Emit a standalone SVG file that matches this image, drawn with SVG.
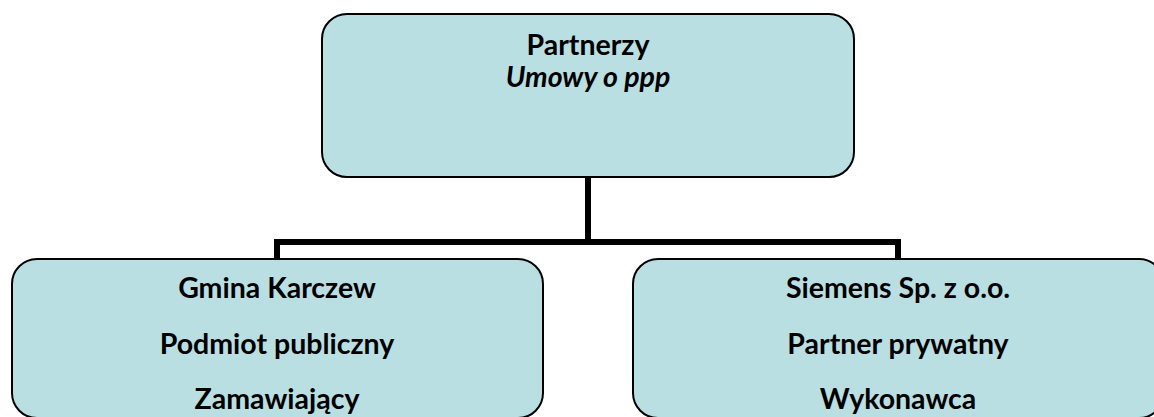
<svg xmlns="http://www.w3.org/2000/svg" width="1154" height="417" viewBox="0 0 1154 417">
<style>
.box{fill:#b9dfe2;stroke:#000;stroke-width:2}
.t{font-family:Lato,"Liberation Sans",sans-serif;font-weight:bold;font-size:28.5px;fill:#000;text-anchor:middle}
.i{font-style:italic}
.c{fill:none;stroke:#000;stroke-width:6}
</style>
<rect width="1154" height="417" fill="#fff"/>
<g id="connectors">
<path class="c" d="M588,177 V242"/>
<path class="c" d="M277,259 V242 H898 V259"/>
</g>
<g id="partnerzy">
<rect class="box" x="322" y="14" width="532" height="163" rx="25"/>
<text class="t" x="588" y="55">Partnerzy</text>
<text class="t i" x="588" y="87">Umowy o ppp</text>
</g>
<g id="gmina">
<rect class="box" x="12" y="259" width="531" height="159" rx="25"/>
<text class="t" x="277" y="298">Gmina Karczew</text>
<text class="t" x="277" y="354">Podmiot publiczny</text>
<text class="t" x="277" y="409">Zamawiający</text>
</g>
<g id="siemens">
<rect class="box" x="633" y="259" width="531" height="159" rx="25"/>
<text class="t" x="898" y="298">Siemens Sp. z o.o.</text>
<text class="t" x="898" y="354">Partner prywatny</text>
<text class="t" x="898" y="409">Wykonawca</text>
</g>
</svg>
